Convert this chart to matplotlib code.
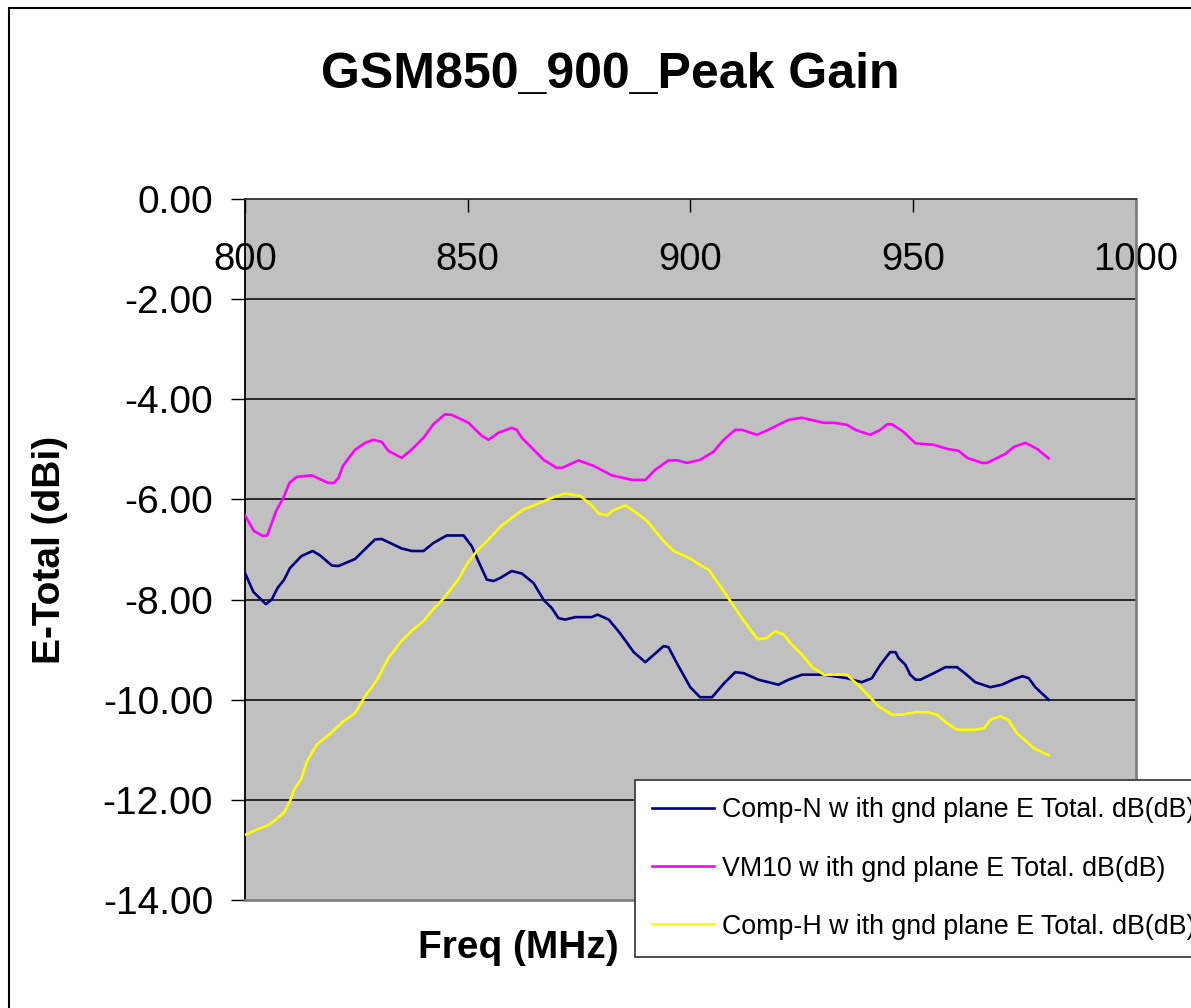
import matplotlib
matplotlib.use("Agg")
import matplotlib.pyplot as plt
from matplotlib.patches import Rectangle

plt.rcParams['font.family'] = ['Liberation Sans', 'DejaVu Sans']
plt.rcParams['axes.unicode_minus'] = False

title = "GSM850_900_Peak Gain"
x_label = "Freq (MHz)"
y_label = "E-Total (dBi)"
x_ticks = [800, 850, 900, 950, 1000]
y_ticks = [0, -2, -4, -6, -8, -10, -12, -14]

series_names = [
    "Comp-N w ith gnd plane E Total. dB(dB)",
    "VM10 w ith gnd plane E Total. dB(dB)",
    "Comp-H w ith gnd plane E Total. dB(dB)",
]
series_colors = ["#000080", "#FF00FF", "#FFFF00"]

compn_freq = [800, 801.9, 804.7, 806, 807.3, 808.8, 810.1, 812.7, 815.2, 816.9, 819.5, 821,
              824.7, 827, 829.2, 830.7, 832.6, 835.2, 837.5, 840.1, 842.3, 845.3, 849.1, 850.9,
              852.4, 854.3, 855.8, 857.3, 859.9, 862.2, 864.8, 867.1, 868.9, 870.4, 871.9, 874.2,
              877.9, 879.2, 881.7, 884.3, 887.3, 889.9, 892.1, 894, 895.1, 897, 900, 902.2,
              904.9, 907.5, 910.1, 912, 915.3, 919.8, 922.1, 925.1, 930, 935.2, 938.5, 940.8,
              942.7, 944.9, 946.1, 946.8, 948.3, 949.4, 950.6, 951.7, 954.7, 957.3, 959.9, 961.8,
              964, 967.4, 970, 972.7, 974.6, 976, 977.5, 980.5]
compn_gain = [-7.47, -7.85, -8.09, -8.00, -7.77, -7.60, -7.37, -7.13, -7.03, -7.12, -7.32, -7.33,
              -7.19, -6.99, -6.80, -6.79, -6.87, -6.98, -7.03, -7.03, -6.87, -6.72, -6.72, -6.93,
              -7.23, -7.60, -7.63, -7.57, -7.43, -7.48, -7.67, -8.01, -8.17, -8.37, -8.40, -8.35,
              -8.35, -8.30, -8.40, -8.68, -9.05, -9.25, -9.08, -8.93, -8.95, -9.27, -9.75, -9.95,
              -9.95, -9.68, -9.45, -9.47, -9.60, -9.70, -9.60, -9.50, -9.50, -9.57, -9.65, -9.57,
              -9.30, -9.05, -9.05, -9.17, -9.30, -9.50, -9.60, -9.60, -9.47, -9.35, -9.35, -9.48,
              -9.65, -9.75, -9.70, -9.59, -9.53, -9.57, -9.75, -10.00]

vm10_freq = [800, 802, 804, 805, 807, 808.6, 810, 811.6, 815, 818.7, 820, 821, 822, 824.7, 827,
             828.8, 830.7, 832.2, 835.2, 837.1, 840.1, 842.3, 844.9, 846.4, 850.2, 853.2, 854.7,
             856.9, 859.9, 861, 862.2, 867.1, 870, 871.2, 874.9, 878.3, 882.4, 886.9, 889.9,
             892.1, 895.1, 897, 899.3, 902.2, 905.2, 907.5, 910.1, 911.6, 915, 918, 922.1, 925.1,
             930, 932.2, 935.2, 937.1, 940.4, 942.7, 944.2, 945.3, 947.9, 950.6, 954.7, 957.7,
             960.3, 962.2, 965.5, 966.7, 970.8, 972.7, 975.3, 977.9, 980.5]
vm10_gain = [-6.32, -6.63, -6.73, -6.72, -6.23, -5.97, -5.67, -5.55, -5.52, -5.67, -5.67, -5.57,
             -5.33, -5.01, -4.87, -4.81, -4.85, -5.03, -5.17, -5.03, -4.77, -4.50, -4.30, -4.31,
             -4.47, -4.73, -4.81, -4.67, -4.57, -4.61, -4.77, -5.21, -5.37, -5.37, -5.22, -5.33,
             -5.52, -5.61, -5.61, -5.41, -5.22, -5.22, -5.27, -5.21, -5.05, -4.81, -4.61, -4.61,
             -4.71, -4.59, -4.41, -4.37, -4.47, -4.47, -4.51, -4.61, -4.71, -4.61, -4.50, -4.50,
             -4.65, -4.88, -4.91, -4.99, -5.03, -5.17, -5.27, -5.27, -5.09, -4.95, -4.87, -4.99,
             -5.18]

comph_freq = [800, 802.2, 804.9, 806.7, 808.8, 810.1, 811, 812.7, 813.9, 816.1, 819.5, 822.1,
              824.7, 827, 829.6, 832.2, 835.2, 837.5, 840.1, 842.3, 844.7, 847.9, 849.8, 852.1,
              854.7, 857.3, 859.6, 862.5, 865.5, 868.5, 871.9, 875.3, 877.9, 879.4, 881.3, 882.8,
              885.4, 887.3, 890.3, 894, 896.3, 900, 902.6, 904.1, 906.7, 909.7, 911.6, 915.1,
              917.2, 919.1, 921, 922.5, 925.1, 927.4, 930, 935.2, 938.2, 942.3, 945.3, 947.5,
              950.6, 953.2, 955.4, 957.7, 959.9, 963.7, 966, 967.4, 969.7, 971.5, 973.4, 977.2,
              980.5]
comph_gain = [-12.70, -12.61, -12.52, -12.41, -12.25, -12.03, -11.80, -11.57, -11.23, -10.90,
              -10.65, -10.43, -10.27, -9.93, -9.61, -9.17, -8.82, -8.62, -8.43, -8.19, -7.97,
              -7.60, -7.30, -7.03, -6.80, -6.55, -6.39, -6.20, -6.10, -5.98, -5.88, -5.93, -6.12,
              -6.28, -6.32, -6.21, -6.12, -6.23, -6.43, -6.83, -7.03, -7.18, -7.33, -7.40, -7.73,
              -8.12, -8.37, -8.79, -8.77, -8.63, -8.70, -8.87, -9.10, -9.35, -9.50, -9.50, -9.75,
              -10.13, -10.30, -10.30, -10.25, -10.25, -10.30, -10.47, -10.60, -10.60, -10.57,
              -10.40, -10.33, -10.41, -10.67, -10.97, -11.11]

W, H = 1191, 1008
fig = plt.figure(figsize=(W / 100, H / 100), dpi=100)
fig.patch.set_facecolor("white")

# outer chart border
fig.patches.append(Rectangle((9 / W, -0.1), 1.2, 1.1 - 8 / H, transform=fig.transFigure,
                             fill=False, edgecolor="black", linewidth=1.5, zorder=0))

ax = fig.add_axes([245 / W, 1 - 900 / H, (1135.5 - 245) / W, (900 - 199) / H])
ax.set_facecolor("#C0C0C0")

for f, g, c, n in zip([compn_freq, vm10_freq, comph_freq],
                      [compn_gain, vm10_gain, comph_gain],
                      series_colors, series_names):
    ax.plot(f, g, color=c, linewidth=1.9, label=n, zorder=3)

ax.set_xlim(800, 1000)
ax.set_ylim(-14, 0)
ax.set_yticks(y_ticks)
ax.set_yticklabels([f"{v:.2f}" for v in y_ticks])
ax.set_xticks(x_ticks)
ax.set_xticklabels([str(v) for v in x_ticks])

for v in y_ticks[1:-1]:
    ax.axhline(v, color="black", linewidth=1.1, zorder=1)

ax.xaxis.tick_top()
ax.tick_params(axis="x", direction="in", length=9, width=1, pad=-57, labelsize=27.5,
               colors="black")
ax.tick_params(axis="y", direction="out", length=10, width=1, pad=13, labelsize=28)

ax.spines["left"].set_color("black")
ax.spines["top"].set_color("#303030")
ax.spines["right"].set_color("#808080")
ax.spines["bottom"].set_color("#808080")
for s in ["left", "top"]:
    ax.spines[s].set_linewidth(1.3)
for s in ["right", "bottom"]:
    ax.spines[s].set_linewidth(2)

ax.set_xlabel(x_label, fontsize=28, fontweight="bold")
ax.xaxis.set_label_position("bottom")
ax.xaxis.set_label_coords((518 - 245) / 890.5, -0.043)
ax.set_ylabel(y_label, fontsize=28, fontweight="bold")
ax.yaxis.set_label_coords((68 - 245) / 890.5, 0.5)

fig.text(610 / W, 1 - 75 / H, title, fontsize=36, fontweight="bold",
         ha="center", va="center")

leg = ax.legend(loc="upper left", bbox_to_anchor=(635 / W, 1 - 780 / H),
                bbox_transform=fig.transFigure, borderaxespad=0, fontsize=19.3,
                frameon=True, fancybox=False, framealpha=1, edgecolor="#404040",
                handlelength=2.3, handletextpad=0.3, labelspacing=1.2, borderpad=0.65)
leg.get_frame().set_linewidth(1.3)
leg.set_zorder(5)

fig.savefig("out.png", dpi=100)
